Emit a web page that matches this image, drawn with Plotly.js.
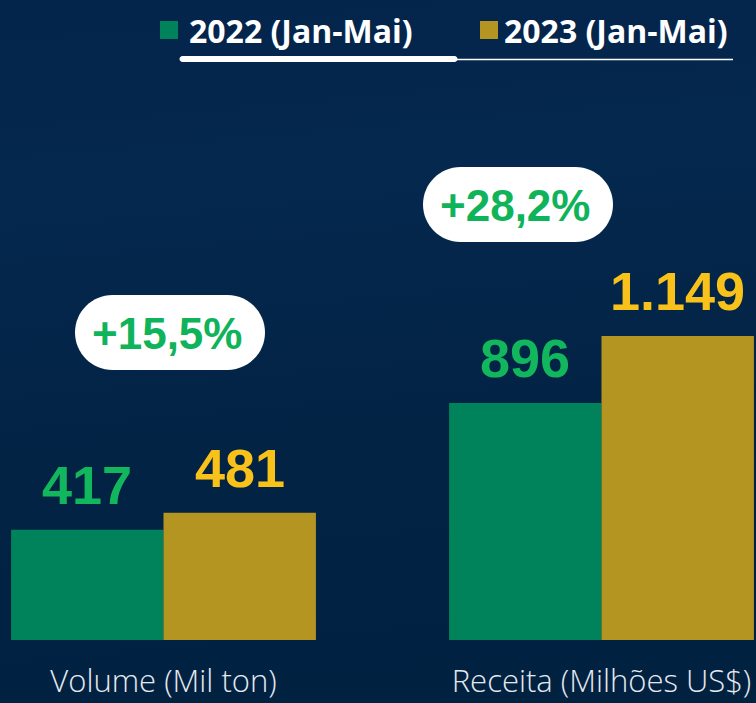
<!DOCTYPE html>
<html><head><meta charset="utf-8">
<script src="https://cdn.plot.ly/plotly-3.0.1.min.js"></script>
<style>
html,body{margin:0;padding:0;width:756px;height:703px;overflow:hidden;
background:linear-gradient(175deg,#03244b 0%,#05284f 25%,#022344 60%,#012141 100%);}
#chart{width:756px;height:703px;}
</style></head><body><div id="chart"></div>
<script>
const categories = ['Volume (Mil ton)', 'Receita (Milhões US$)'];
const seriesNames = ['2022 (Jan-Mai)', '2023 (Jan-Mai)'];
const values2022 = [417, 896];
const values2023 = [481, 1149];
const growthLabels = ['+15,5%', '+28,2%'];

const barColors = ['#00835A', '#B59522'];
const labelColors = ['#12B65C', '#F8C21B'];
const W = 756, H = 703, plotH = 640;
const bargap = 0.304;
const barw = (1 - bargap) / 2;

function fmt(v){ return String(v).replace(/\B(?=(\d{3})+(?!\d))/g, '.'); }
function px(x){ return x / W; }
function py(y){ return (plotH - y) / plotH; }

const series = [values2022, values2023];
const traces = series.map((vals, j) => ({
  type: 'bar', x: categories, y: vals, name: seriesNames[j],
  marker: {color: barColors[j], line: {width: 0}},
  hoverinfo: 'skip', showlegend: false
}));

const annotations = [];
series.forEach((vals, j) => {
  vals.forEach((v, i) => {
    annotations.push({
      x: i + (j - 0.5) * barw, y: v, xref: 'x', yref: 'y',
      text: fmt(v), showarrow: false, yanchor: 'bottom', yshift: 13,
      font: {family: 'Liberation Sans, Arial, sans-serif', size: 54, color: labelColors[j], weight: 700}
    });
  });
});

// pills
function pillPath(hw, hh){
  const r = hh, k = 0.5523 * r, a = hw - r;
  return `M ${-a},${-hh} L ${a},${-hh} C ${a+k},${-hh} ${hw},${-k} ${hw},0 C ${hw},${k} ${a+k},${hh} ${a},${hh} L ${-a},${hh} C ${-a-k},${hh} ${-hw},${k} ${-hw},0 C ${-hw},${-k} ${-a-k},${-hh} ${-a},${-hh} Z`;
}
const pillCenters = [[170, 332.5], [518, 204.5]];
const shapes = [];
growthLabels.forEach((g, i) => {
  const [cx, cy] = pillCenters[i];
  shapes.push({type: 'path', xref: 'paper', yref: 'paper', xsizemode: 'pixel', ysizemode: 'pixel',
    xanchor: px(cx), yanchor: py(cy), path: pillPath(95, 37.5),
    fillcolor: '#ffffff', line: {width: 0}, layer: 'above'});
  annotations.push({x: px(cx - 3), y: py(cy), xref: 'paper', yref: 'paper', text: g, showarrow: false,
    xanchor: 'center', yanchor: 'middle', yshift: -1,
    font: {family: 'Liberation Sans, Arial, sans-serif', size: 44, color: '#0FB35A', weight: 700}});
});

// legend
const legX = [[160, 187], [480, 502]];
seriesNames.forEach((n, j) => {
  shapes.push({type: 'rect', xref: 'paper', yref: 'paper', x0: px(legX[j][0]), x1: px(legX[j][0] + 18),
    y0: py(39), y1: py(21), fillcolor: barColors[j], line: {width: 0}});
  annotations.push({x: px(legX[j][1]), y: py(30), xref: 'paper', yref: 'paper', text: n, showarrow: false,
    xanchor: 'left', yanchor: 'middle',
    font: {family: 'Open Sans, sans-serif', size: 32, color: '#ffffff', weight: 700}});
});
// tab underline
shapes.push({type: 'path', xref: 'paper', yref: 'paper', xsizemode: 'pixel', ysizemode: 'pixel',
  xanchor: px(318.5), yanchor: py(59), path: pillPath(139, 3), fillcolor: '#ffffff', line: {width: 0}});
shapes.push({type: 'line', xref: 'paper', yref: 'paper', x0: px(455), x1: px(733), y0: py(59.5), y1: py(59.5),
  line: {color: '#ffffff', width: 1.5}});

const layout = {
  width: W, height: H,
  margin: {l: 0, r: 0, t: 0, b: H - plotH, pad: 0},
  paper_bgcolor: 'rgba(0,0,0,0)', plot_bgcolor: 'rgba(0,0,0,0)',
  barmode: 'group', bargap: bargap, bargroupgap: 0,
  showlegend: false,
  xaxis: {type: 'category', range: [-163.5/438, -163.5/438 + W/438], showgrid: false, zeroline: false,
    showline: false, ticks: '', ticklabelstandoff: 20,
    tickfont: {family: 'Open Sans, sans-serif', size: 31, color: '#e6e9ee', weight: 300}, fixedrange: true},
  yaxis: {range: [0, plotH * 1149 / 304], visible: false, showgrid: false, zeroline: false, fixedrange: true},
  shapes: shapes, annotations: annotations
};
Plotly.newPlot('chart', traces, layout, {displayModeBar: false, staticPlot: true});
</script></body></html>
